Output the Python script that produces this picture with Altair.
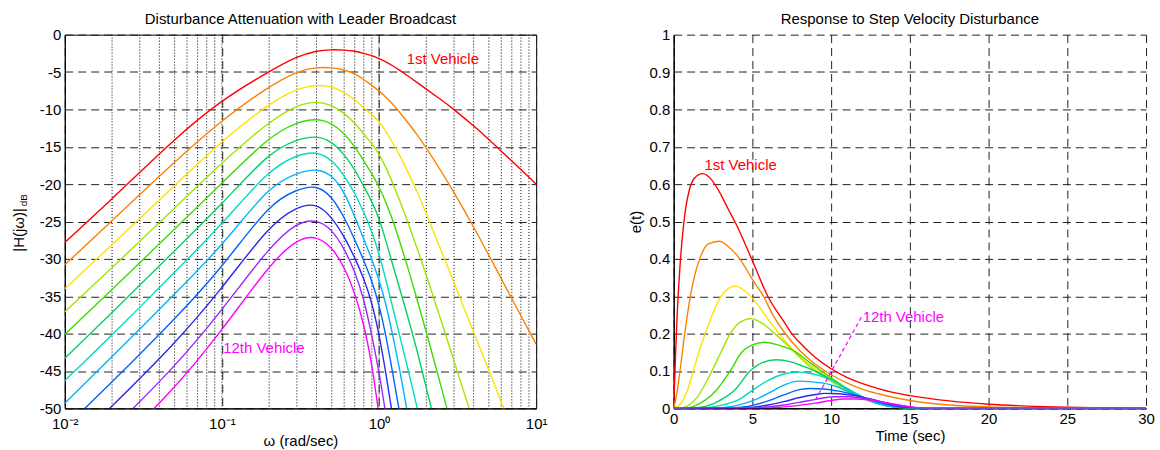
import altair as alt
import pandas as pd

# ---------------------------------------------------------------------------
# Vehicles in the platoon and their line colours
# ---------------------------------------------------------------------------
vehicle_ids = ["01", "02", "03", "04", "05", "06", "07", "08", "09", "10", "11", "12"]
vehicle_colors = ["#ff0000", "#ff8000", "#ffe100", "#a0e600", "#3cdc00", "#00d264",
                  "#00dcbe", "#00b4ff", "#0064ff", "#2828f0", "#9628ff", "#ff00ff"]

# ---------------------------------------------------------------------------
# Left panel: |H(jw)| in dB on a shared frequency grid (None = off the plot)
# ---------------------------------------------------------------------------
omega = [0.01, 0.02, 0.05, 0.1, 0.2, 0.3, 0.4, 0.5, 0.6, 0.7, 0.8, 0.9, 1.0,
         1.1, 1.2, 1.35, 1.5, 1.75, 2.0, 2.5, 3.0, 4.0, 5.0, 7.0, 10.0]

mag_01 = [-27.8, -22.0, -13.9, -8.7, -4.9, -2.9, -2.15, -2.0, -2.05, -2.2, -2.5, -2.8, -3.2,
          -3.6, -4.05, -4.75, -5.4, -6.4, -7.3, -8.75, -10.0, -12.2, -14.0, -16.9, -20.0]
mag_02 = [-30.8, -24.9, -17.0, -11.4, -6.9, -4.9, -4.35, -4.4, -4.7, -5.2, -6.0, -6.8, -7.5,
          -8.3, -9.1, -10.35, -11.55, -13.4, -15.15, -18.35, -21.1, -25.7, -29.5, -35.35, -41.4]
mag_03 = [-34.0, -28.1, -20.2, -14.2, -9.2, -7.2, -6.7, -6.9, -7.7, -8.7, -9.8, -10.7, -11.6,
          -12.85, -14.15, -16.1, -18.0, -21.05, -23.95, -29.0, -33.2, -39.8, -44.9, -52.7, None]
mag_04 = [-37.1, -31.2, -23.2, -17.1, -11.6, -9.4, -8.9, -9.4, -10.5, -11.8, -13.3, -14.6, -15.9,
          -17.65, -19.45, -22.1, -24.65, -28.6, -32.2, -38.4, -43.65, -51.9, None, None, None]
mag_05 = [-40.1, -34.1, -26.0, -19.9, -13.6, -11.7, -11.2, -11.8, -13.2, -14.9, -16.9, -18.6, -20.3,
          -22.3, -24.35, -27.55, -30.65, -35.45, -39.8, -47.3, -53.5, None, None, None, None]
mag_06 = [-43.3, -37.2, -28.9, -22.7, -15.7, -14.0, -13.5, -14.3, -16.0, -18.0, -20.3, -22.3, -24.5,
          -27.4, -30.2, -33.9, -37.2, -42.3, -47.3, -55.5, None, None, None, None, None]
mag_07 = [-46.3, -40.2, -31.8, -25.4, -18.0, -16.1, -15.6, -16.7, -18.8, -21.2, -23.7, -26.3, -29.3,
          -32.6, -35.8, -40.2, -44.0, -50.0, -55.0, None, None, None, None, None, None]
mag_08 = [-49.3, -43.1, -34.7, -28.3, -20.2, -18.5, -17.9, -18.7, -21.0, -24.3, -27.4, -30.0, -32.8,
          -35.8, -39.4, -44.6, -50.0, -58.0, None, None, None, None, None, None, None]
mag_09 = [-52.6, -46.5, -38.1, -31.2, -22.6, -20.7, -20.1, -21.6, -24.4, -27.4, -30.2, -32.9, -36.1,
          -40.0, -44.3, -50.4, -56.5, None, None, None, None, None, None, None, None]
mag_10 = [-55.9, -49.7, -41.4, -34.0, -25.5, -23.0, -22.5, -24.4, -27.0, -29.8, -32.6, -35.8, -40.0,
          -45.0, -50.0, -57.0, None, None, None, None, None, None, None, None, None]
mag_11 = [None, -52.8, -44.5, -36.9, -28.4, -25.1, -24.7, -26.0, -28.6, -31.6, -35.3, -40.2, -45.1,
          -50.5, -56.0, None, None, None, None, None, None, None, None, None, None]
mag_12 = [None, -55.6, -47.4, -39.6, -30.8, -27.3, -26.9, -28.4, -31.0, -34.5, -38.7, -44.0, -50.8,
          -58.0, None, None, None, None, None, None, None, None, None, None, None]

decades = [0.01, 0.1, 1, 10]
decade_labels = ["10⁻²", "10⁻¹", "10⁰", "10¹"]
minor_grid = [0.02, 0.03, 0.04, 0.05, 0.06, 0.07, 0.08, 0.09, 0.1,
              0.2, 0.3, 0.4, 0.5, 0.6, 0.7, 0.8, 0.9, 1,
              2, 3, 4, 5, 6, 7, 8, 9]
db_ticks = [-50, -45, -40, -35, -30, -25, -20, -15, -10, -5, 0]

# ---------------------------------------------------------------------------
# Right panel: spacing error e(t) after a step velocity disturbance
# ---------------------------------------------------------------------------
t_01 = [0, 0.1, 0.2, 0.4, 0.6, 0.8, 1.0, 1.3, 1.85, 2.4, 3.0, 3.5, 4.0, 5.0, 6.0, 7.0, 7.5, 8.0,
        9.0, 10, 11, 12, 13, 14, 15, 17.5, 20, 22.5, 25, 27.5, 30]
e_01 = [0, 0.12, 0.23, 0.38, 0.48, 0.545, 0.585, 0.615, 0.628, 0.612, 0.572, 0.53, 0.49, 0.395,
        0.298, 0.232, 0.2, 0.176, 0.136, 0.106, 0.083, 0.066, 0.053, 0.042, 0.034, 0.02, 0.011,
        0.006, 0.003, 0.001, 0.0]
t_02 = [0, 0.2, 0.4, 0.7, 1.06, 1.3, 1.65, 2.2, 2.9, 3.5, 4.2, 5.0, 5.7, 6.3, 7.0, 8.0, 9.0, 10,
        11, 12, 13, 14, 15, 17.5, 20, 22.5, 25, 30]
e_02 = [0, 0.04, 0.1, 0.2, 0.3, 0.35, 0.4, 0.44, 0.447, 0.432, 0.4, 0.345, 0.3, 0.25, 0.205,
        0.155, 0.118, 0.09, 0.068, 0.051, 0.039, 0.029, 0.021, 0.009, 0.004, 0.002, 0.001, 0]
t_03 = [0, 0.5, 0.8, 1.25, 1.6, 2.0, 2.5, 3.0, 3.5, 3.9, 4.4, 5.0, 5.5, 6.0, 6.7, 7.5, 8.5, 9.3,
        10, 11, 12, 13, 14, 15, 16, 30]
e_03 = [0, 0.015, 0.04, 0.1, 0.15, 0.2, 0.255, 0.3, 0.322, 0.327, 0.318, 0.295, 0.268, 0.238,
        0.2, 0.16, 0.12, 0.097, 0.078, 0.052, 0.031, 0.016, 0.007, 0.002, 0.0, 0.0]
t_04 = [0, 0.6, 1.0, 1.5, 2.0, 2.43, 3.0, 3.59, 4.2, 4.9, 5.6, 6.43, 7.2, 8.0, 9.0, 10, 11, 12,
        13, 14, 15, 30]
e_04 = [0, 0.002, 0.01, 0.03, 0.065, 0.1, 0.15, 0.2, 0.23, 0.24, 0.228, 0.2, 0.17, 0.137, 0.1,
        0.072, 0.046, 0.026, 0.012, 0.004, 0.0, 0.0]
t_05 = [0, 1.0, 1.5, 2.0, 2.74, 3.59, 4.32, 5.0, 5.8, 6.6, 7.8, 8.5, 9.39, 10, 11, 12, 13, 14,
        15, 30]
e_05 = [0, 0.002, 0.01, 0.022, 0.05, 0.1, 0.15, 0.17, 0.177, 0.17, 0.15, 0.127, 0.1, 0.082,
        0.053, 0.029, 0.012, 0.003, 0.0, 0.0]
t_06 = [0, 1.5, 2.5, 3.2, 3.9, 4.85, 5.6, 6.5, 7.4, 8.2, 9.07, 10, 11, 12, 13, 14, 15, 30]
e_06 = [0, 0.002, 0.012, 0.028, 0.05, 0.1, 0.122, 0.13, 0.125, 0.113, 0.098, 0.077, 0.051, 0.03,
        0.013, 0.004, 0.0, 0.0]
t_07 = [0, 2, 3, 4.2, 5.06, 6.0, 7.0, 7.8, 8.6, 9.3, 10, 11, 12, 13, 14, 15, 30]
e_07 = [0, 0.002, 0.008, 0.025, 0.05, 0.075, 0.092, 0.097, 0.094, 0.087, 0.076, 0.054, 0.031,
        0.013, 0.004, 0.0, 0.0]
t_08 = [0, 3, 4, 5, 6, 7, 7.9, 8.8, 10, 11, 12, 13, 14, 15, 30]
e_08 = [0, 0.002, 0.008, 0.02, 0.04, 0.062, 0.073, 0.071, 0.063, 0.047, 0.029, 0.013, 0.004,
        0.0, 0.0]
t_09 = [0, 4, 5, 6, 7, 8, 8.7, 9.5, 10.5, 11.5, 12.5, 13.5, 14.5, 15.5, 30]
e_09 = [0, 0.002, 0.008, 0.02, 0.036, 0.05, 0.053, 0.052, 0.046, 0.036, 0.023, 0.011, 0.003,
        0.0, 0.0]
t_10 = [0, 5, 6, 7, 8, 9, 9.6, 10.5, 11.5, 12.5, 13.5, 14.5, 15.5, 16, 30]
e_10 = [0, 0.003, 0.009, 0.018, 0.029, 0.037, 0.04, 0.039, 0.034, 0.025, 0.014, 0.005, 0.001,
        0.0, 0.0]
t_11 = [0, 5, 6, 7, 8, 9, 10.2, 11, 12, 13, 14, 15, 16, 30]
e_11 = [0, 0.001, 0.004, 0.009, 0.016, 0.024, 0.031, 0.031, 0.027, 0.02, 0.011, 0.004, 0.0, 0.0]
t_12 = [0, 6, 7, 8, 9, 10, 10.8, 11.5, 12.5, 13.5, 14.5, 15.5, 16.5, 30]
e_12 = [0, 0.001, 0.004, 0.008, 0.014, 0.021, 0.025, 0.025, 0.022, 0.015, 0.007, 0.002, 0.0, 0.0]

time_ticks = [0, 5, 10, 15, 20, 25, 30]
err_ticks = [0, 0.1, 0.2, 0.3, 0.4, 0.5, 0.6, 0.7, 0.8, 0.9, 1.0]

# annotation anchors
bode_note_omega = [1.5, 0.102]
bode_note_db = [-3.2, -41.9]
resp_note_t = [1.96, 12.0]
resp_note_e = [0.65, 0.245]
note_text = ["1st Vehicle", "12th Vehicle"]
note_vehicle = ["01", "12"]
leader_t = [9.0, 12.0]
leader_e = [0.022, 0.25]

FONT = "Liberation Sans"
FS = 15
GRID_DASH = [8, 5]

# ---------------------------------------------------------------------------
# Long tables for the library
# ---------------------------------------------------------------------------
mags = [mag_01, mag_02, mag_03, mag_04, mag_05, mag_06,
        mag_07, mag_08, mag_09, mag_10, mag_11, mag_12]
bode_rows = []
for vid, vals in zip(vehicle_ids, mags):
    for w, v in zip(omega, vals):
        if v is not None:
            bode_rows.append({"vehicle": vid, "omega": w, "db": v})
bode_df = pd.DataFrame(bode_rows)

times = [t_01, t_02, t_03, t_04, t_05, t_06, t_07, t_08, t_09, t_10, t_11, t_12]
errs = [e_01, e_02, e_03, e_04, e_05, e_06, e_07, e_08, e_09, e_10, e_11, e_12]
resp_rows = []
for vid, ts, es in zip(vehicle_ids, times, errs):
    for t, e in zip(ts, es):
        resp_rows.append({"vehicle": vid, "t": t, "e": e})
resp_df = pd.DataFrame(resp_rows)

color_enc = alt.Color("vehicle:N",
                      scale=alt.Scale(domain=vehicle_ids, range=vehicle_colors),
                      legend=None)

# ---------------------------------------------------------------------------
# Left panel
# ---------------------------------------------------------------------------
decade_expr = " : ".join(
    f"datum.value < {d * 3} ? '{lab}'" for d, lab in zip(decades[:-1], decade_labels[:-1])
) + f" : '{decade_labels[-1]}'"

x_bode = alt.X(
    "omega:Q",
    scale=alt.Scale(type="log", domain=[decades[0], decades[-1]], nice=False),
    axis=alt.Axis(values=decades, labelExpr=decade_expr, title="ω (rad/sec)",
                  grid=True, gridDash=GRID_DASH, gridColor="#222", gridWidth=1,
                  ticks=False, domain=True, domainColor="black",
                  labelPadding=8, titlePadding=2, labelFlush=False, labelOverlap=False),
)
y_bode = alt.Y(
    "db:Q",
    scale=alt.Scale(domain=[db_ticks[0], db_ticks[-1]], nice=False),
    axis=alt.Axis(values=db_ticks, labelExpr="datum.value + ''", title=None,
                  grid=True, gridDash=GRID_DASH, gridColor="#222", gridWidth=1,
                  ticks=False, domain=True, domainColor="black",
                  labelPadding=4, labelOverlap=False),
)

minor_rules = alt.Chart(pd.DataFrame({"omega": minor_grid})).mark_rule(
    color="black", strokeDash=[1, 2], strokeWidth=1
).encode(x=x_bode)

bode_lines = alt.Chart(bode_df).mark_line(
    strokeWidth=1.4, interpolate="basis", clip=True
).encode(x=x_bode, y=y_bode, color=color_enc, detail="vehicle:N")

bode_notes = alt.Chart(pd.DataFrame({
    "omega": bode_note_omega, "db": bode_note_db,
    "note": note_text, "vehicle": note_vehicle,
})).mark_text(align="left", baseline="middle", fontSize=FS, font=FONT).encode(
    x=x_bode, y=y_bode, text="note:N", color=color_enc
)

ylabel_main = alt.Chart(pd.DataFrame({"s": ["|H(jω)|"]})).mark_text(
    angle=270, fontSize=FS, font=FONT, color="black", align="center", baseline="middle"
).encode(x=alt.value(-46), y=alt.value(196), text="s:N")
ylabel_sub = alt.Chart(pd.DataFrame({"s": ["dB"]})).mark_text(
    angle=270, fontSize=10, font=FONT, color="black", align="center", baseline="middle"
).encode(x=alt.value(-41), y=alt.value(166), text="s:N")

left = alt.layer(
    minor_rules, bode_lines, bode_notes, ylabel_main, ylabel_sub,
    title="Disturbance Attenuation with Leader Broadcast",
    view=alt.ViewBackground(stroke="black", strokeWidth=1),
).properties(width=473, height=375)

# ---------------------------------------------------------------------------
# Right panel
# ---------------------------------------------------------------------------
x_resp = alt.X(
    "t:Q",
    scale=alt.Scale(domain=[time_ticks[0], time_ticks[-1]], nice=False),
    axis=alt.Axis(values=time_ticks, title="Time (sec)",
                  grid=True, gridDash=GRID_DASH, gridColor="#222", gridWidth=1,
                  ticks=False, domain=True, domainColor="black", domainWidth=1.5,
                  labelPadding=3, titlePadding=2, labelFlush=False, labelOverlap=False),
)
y_resp = alt.Y(
    "e:Q",
    scale=alt.Scale(domain=[err_ticks[0], err_ticks[-1]], nice=False),
    axis=alt.Axis(values=err_ticks, labelExpr="datum.value + ''", title="e(t)",
                  grid=True, gridDash=GRID_DASH, gridColor="#222", gridWidth=1,
                  ticks=False, domain=True, domainColor="black", domainWidth=1.5,
                  labelPadding=4, titlePadding=5, labelOverlap=False),
)

resp_lines = alt.Chart(resp_df).mark_line(
    strokeWidth=1.4, interpolate="monotone", clip=True
).encode(x=x_resp, y=y_resp, color=color_enc, detail="vehicle:N")

leader = alt.Chart(pd.DataFrame({"t": leader_t, "e": leader_e})).mark_line(
    color=vehicle_colors[-1], strokeDash=[4, 3], strokeWidth=1.2
).encode(x=x_resp, y=y_resp)

resp_notes = alt.Chart(pd.DataFrame({
    "t": resp_note_t, "e": resp_note_e,
    "note": note_text, "vehicle": note_vehicle,
})).mark_text(align="left", baseline="middle", fontSize=FS, font=FONT).encode(
    x=x_resp, y=y_resp, text="note:N", color=color_enc
)

right = alt.layer(
    resp_lines, leader, resp_notes,
    title="Response to Step Velocity Disturbance",
    view=alt.ViewBackground(stroke=None),
).properties(width=474, height=375)

chart = alt.hconcat(left, right, spacing=138, bounds="flush").properties(
    padding={"left": 11, "top": 10, "right": 5, "bottom": 0},
    background="white",
).configure(
    font=FONT,
).configure_view(
    stroke=None,
).configure_axis(
    labelFont=FONT, titleFont=FONT, labelFontSize=FS, titleFontSize=FS,
    labelColor="black", titleColor="black", titleFontWeight="normal",
).configure_title(
    font=FONT, fontSize=FS, fontWeight="normal", color="black", offset=1, anchor="middle",
)

chart.save("out.html", embed_options={"renderer": "svg", "actions": False})
